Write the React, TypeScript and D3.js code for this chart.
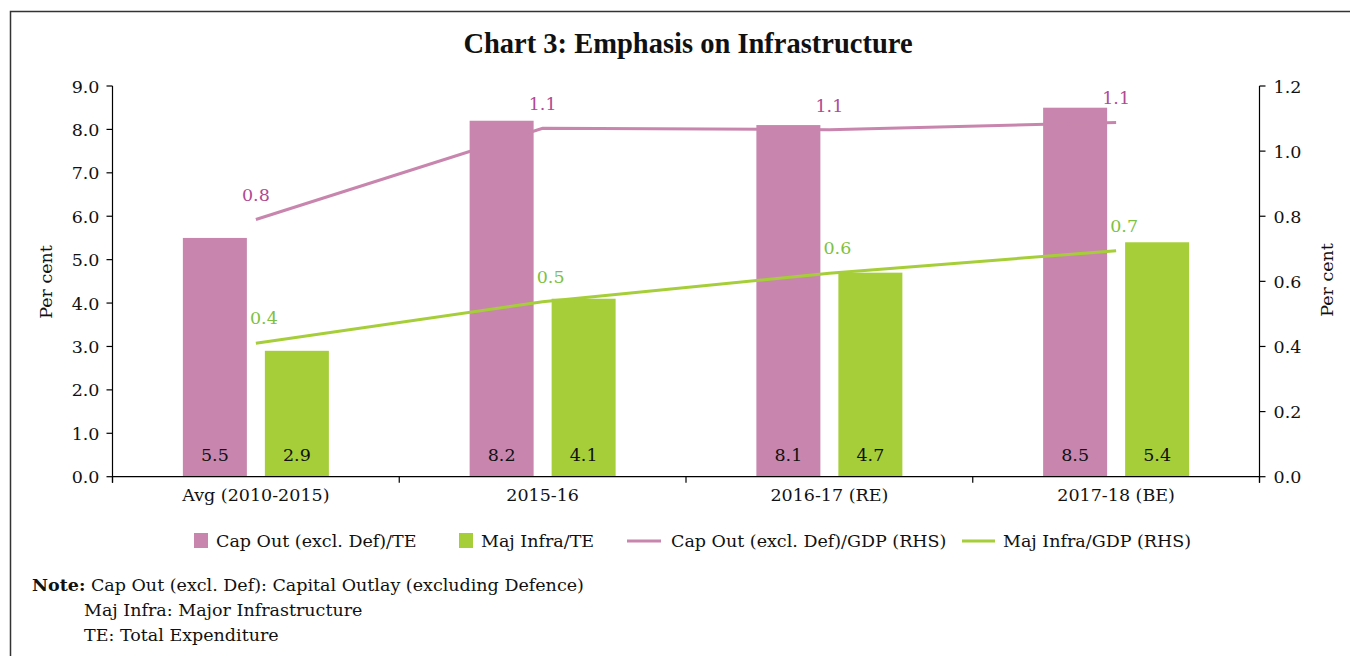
import React from "react";
import * as d3 from "d3";

const categories = ["Avg (2010-2015)", "2015-16", "2016-17 (RE)", "2017-18 (BE)"];
const capOutTE = [5.5, 8.2, 8.1, 8.5];
const majInfraTE = [2.9, 4.1, 4.7, 5.4];
const capOutGDP = [0.79, 1.07, 1.066, 1.088];
const majInfraGDP = [0.41, 0.537, 0.625, 0.694];
const capOutGDPLabels = ["0.8", "1.1", "1.1", "1.1"];
const majInfraGDPLabels = ["0.4", "0.5", "0.6", "0.7"];
const leftTicks = [0, 1, 2, 3, 4, 5, 6, 7, 8, 9];
const rightTicks = [0, 0.2, 0.4, 0.6, 0.8, 1.0, 1.2];
const legendLabels = [
  "Cap Out (excl. Def)/TE",
  "Maj Infra/TE",
  "Cap Out (excl. Def)/GDP (RHS)",
  "Maj Infra/GDP (RHS)",
];

const MAGENTA = "#C886AE";
const GREEN = "#A6CE39";
const MAGENTA_TXT = "#B04A93";
const GREEN_TXT = "#7DC142";
const FONT = "'DejaVu Serif', serif";
const TITLE_FONT = "'Liberation Serif', 'Times New Roman', serif";

export default function App() {
  const W = 1350;
  const H = 656;
  const left = 112.5;
  const right = 1259.5;
  const top = 86;
  const bottom = 476.7;

  const x = d3.scaleBand<string>().domain(categories).range([left, right]).paddingInner(0).paddingOuter(0);
  const bw = x.bandwidth();
  const groupW = 146;
  const x1 = d3
    .scaleBand<string>()
    .domain(["a", "b"])
    .range([(bw - groupW) / 2, (bw + groupW) / 2])
    .paddingInner(0.2195)
    .paddingOuter(0);
  const yL = d3.scaleLinear().domain([0, 9]).range([bottom, top]);
  const yR = d3.scaleLinear().domain([0, 1.2]).range([bottom, top]);

  const cx = (c: string) => (x(c) as number) + bw / 2;
  const lineGen = d3
    .line<number>()
    .x((_, i) => cx(categories[i]))
    .y((v) => yR(v));

  const boundaries = [...categories.map((c) => x(c) as number), right];

  const fs = 17.5;
  const legendX = [194, 459, 627, 962];

  return (
    <svg
      width={W}
      height={H}
      style={{ position: "absolute", left: 0, top: 0, background: "#fff" }}
      fontFamily={FONT}
    >
      <rect x={0} y={0} width={W} height={H} fill="#fff" />
      <rect x={10.5} y={11.5} width={1400} height={700} fill="none" stroke="#333" strokeWidth={1.5} />
      <text x={688} y={53} textAnchor="middle" fontSize={28.5} fontWeight="bold" fill="#111" fontFamily={TITLE_FONT}>
        Chart 3: Emphasis on Infrastructure
      </text>

      {/* bars */}
      {categories.map((c, i) => (
        <g key={c} transform={`translate(${x(c)},0)`}>
          <rect
            x={x1("a")}
            width={x1.bandwidth()}
            y={yL(capOutTE[i])}
            height={bottom - yL(capOutTE[i])}
            fill={MAGENTA}
          />
          <rect
            x={x1("b")}
            width={x1.bandwidth()}
            y={yL(majInfraTE[i])}
            height={bottom - yL(majInfraTE[i])}
            fill={GREEN}
          />
          <text
            x={(x1("a") as number) + x1.bandwidth() / 2}
            y={bottom - 16}
            textAnchor="middle"
            fontSize={fs}
            fill="#111"
          >
            {capOutTE[i].toFixed(1)}
          </text>
          <text
            x={(x1("b") as number) + x1.bandwidth() / 2}
            y={bottom - 16}
            textAnchor="middle"
            fontSize={fs}
            fill="#111"
          >
            {majInfraTE[i].toFixed(1)}
          </text>
        </g>
      ))}

      {/* lines */}
      <path d={lineGen(capOutGDP) || ""} fill="none" stroke={MAGENTA} strokeWidth={3} />
      <path d={lineGen(majInfraGDP) || ""} fill="none" stroke={GREEN} strokeWidth={3} />
      {categories.map((c, i) => (
        <g key={"l" + c}>
          <text x={cx(c)} y={yR(capOutGDP[i]) - 18} textAnchor="middle" fontSize={fs} fill={MAGENTA_TXT}>
            {capOutGDPLabels[i]}
          </text>
          <text x={cx(c) + 8} y={yR(majInfraGDP[i]) - 19} textAnchor="middle" fontSize={fs} fill={GREEN_TXT}>
            {majInfraGDPLabels[i]}
          </text>
        </g>
      ))}

      {/* left axis */}
      <line x1={left} x2={left} y1={top} y2={bottom + 6} stroke="#000" strokeWidth={1.2} />
      {leftTicks.map((t) => (
        <g key={"lt" + t}>
          <line x1={left - 6} x2={left} y1={yL(t)} y2={yL(t)} stroke="#000" strokeWidth={1.2} />
          <text x={left - 13} y={yL(t) + 6.5} textAnchor="end" fontSize={fs} fill="#111">
            {t.toFixed(1)}
          </text>
        </g>
      ))}
      {/* right axis */}
      <line x1={right} x2={right} y1={top} y2={bottom + 6} stroke="#000" strokeWidth={1.2} />
      {rightTicks.map((t) => (
        <g key={"rt" + t}>
          <line x1={right} x2={right + 6} y1={yR(t)} y2={yR(t)} stroke="#000" strokeWidth={1.2} />
          <text x={right + 14} y={yR(t) + 6.5} textAnchor="start" fontSize={fs} fill="#111">
            {t.toFixed(1)}
          </text>
        </g>
      ))}
      {/* x axis */}
      <line x1={left} x2={right} y1={bottom} y2={bottom} stroke="#000" strokeWidth={1.2} />
      {boundaries.map((b, i) => (
        <line key={"xb" + i} x1={b} x2={b} y1={bottom} y2={bottom + 6} stroke="#000" strokeWidth={1.2} />
      ))}
      {categories.map((c) => (
        <text key={"xl" + c} x={cx(c)} y={501} textAnchor="middle" fontSize={fs} fill="#111">
          {c}
        </text>
      ))}

      <text transform={`translate(52,282) rotate(-90)`} textAnchor="middle" fontSize={fs} fill="#111">
        Per cent
      </text>
      <text transform={`translate(1333,280) rotate(-90)`} textAnchor="middle" fontSize={fs} fill="#111">
        Per cent
      </text>

      {/* legend */}
      <rect x={legendX[0]} y={533} width={14} height={15} fill={MAGENTA} />
      <text x={legendX[0] + 22} y={547} fontSize={fs} fill="#111">{legendLabels[0]}</text>
      <rect x={legendX[1]} y={533} width={14} height={15} fill={GREEN} />
      <text x={legendX[1] + 22} y={547} fontSize={fs} fill="#111">{legendLabels[1]}</text>
      <line x1={legendX[2]} x2={legendX[2] + 34} y1={541} y2={541} stroke={MAGENTA} strokeWidth={3} />
      <text x={legendX[2] + 44} y={547} fontSize={fs} fill="#111">{legendLabels[2]}</text>
      <line x1={legendX[3]} x2={legendX[3] + 33} y1={541} y2={541} stroke={GREEN} strokeWidth={3} />
      <text x={legendX[3] + 41} y={547} fontSize={fs} fill="#111">{legendLabels[3]}</text>

      {/* note */}
      <text x={32} y={591} fontSize={fs} fill="#111">
        <tspan fontWeight="bold">Note:</tspan>
        <tspan> Cap Out (excl. Def): Capital Outlay (excluding Defence)</tspan>
      </text>
      <text x={84} y={616} fontSize={fs} fill="#111">Maj Infra: Major Infrastructure</text>
      <text x={84} y={641} fontSize={fs} fill="#111">TE: Total Expenditure</text>
    </svg>
  );
}
